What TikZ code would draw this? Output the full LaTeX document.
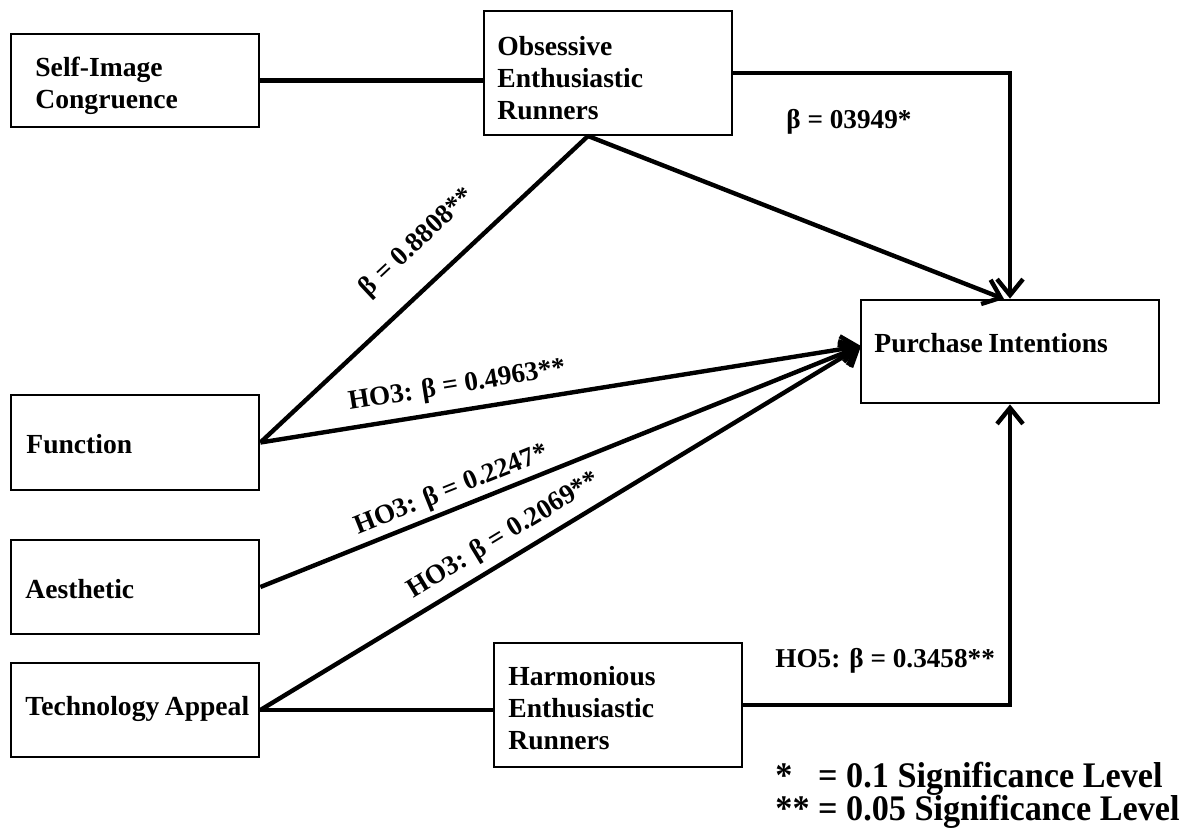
\documentclass[tikz,border=0pt]{standalone}
\usepackage{fontspec}
\setmainfont{Liberation Serif}
\newfontfamily\boxfont{Liberation Serif}[WordSpace=0.8]
\usetikzlibrary{arrows.meta}
\begin{document}
\begin{tikzpicture}[x=0.5pt,y=-0.5pt,
  box/.style={draw, line width=1.4pt, inner sep=0pt},
  txt/.style={anchor=base west, inner sep=0pt, text width=150pt, align=flush left,
              font=\boxfont\bfseries\fontsize{13.8}{16}\selectfont},
  lbl/.style={inner sep=1pt, font=\bfseries\fontsize{13.6}{16}\selectfont},
  link/.style={line width=2.2pt, line join=miter},
  arr/.style={link, -{Straight Barb[length=8pt,width=13pt,line width=2.2pt]}},
  key/.style={anchor=base west, inner sep=0pt,
              font=\bfseries\fontsize{18}{20}\selectfont\addfontfeature{FakeStretch=0.95}}]
\useasboundingbox (0,0) rectangle (1187,831);

% construct boxes
\node[box, minimum width=124pt, minimum height=46.5pt] (self) at (135,80.5) {};
\node[box, minimum width=124pt, minimum height=62pt]   (obs)  at (608,73) {};
\node[box, minimum width=149pt, minimum height=51.5pt] (pi)   at (1010,351.5) {};
\node[box, minimum width=124pt, minimum height=47.5pt] (func) at (135,442.5) {};
\node[box, minimum width=124pt, minimum height=47pt]   (aes)  at (135,587) {};
\node[box, minimum width=124pt, minimum height=47pt]   (tech) at (135,710) {};
\node[box, minimum width=124pt, minimum height=62pt]   (harm) at (618,705) {};

% box texts
\node[txt] (selft) at (35,76)  {Self-Image\\Congruence};
\node[txt] (obst)  at (497,55) {Obsessive\\Enthusiastic\\Runners};
\node[txt] (pit)   at (874,352) {Purchase Intentions};
\node[txt] (funct) at (26,453) {Function};
\node[txt] (aest)  at (25,598) {Aesthetic};
\node[txt] (techt) at (25,715) {Technology Appeal};
\node[txt] (harmt) at (508,685) {Harmonious\\Enthusiastic\\Runners};

% connection points
\coordinate (obsB) at (588,136);
\coordinate (piL)  at (861,346);
\coordinate (piT)  at (1004,299);

% plain links
\draw[link] (self.east) -- (self.east -| obs.west);
\draw[link] (tech.east) -- (tech.east -| harm.west);
\draw[link] (func.east) -- node[lbl, sloped, above=11pt, pos=.56] (l1) {β = 0.8808**} (obsB);

% paths into purchase intentions
\draw[arr] (obs.east) -| (pi.north);
\draw[arr] (obsB) -- (piT);
\draw[arr] (func.east) -- node[lbl, sloped, above=4pt, pos=.334] (l2) {HO3: β = 0.4963**} (piL);
\draw[arr] (aes.east)  -- node[lbl, sloped, above=1pt, pos=.33] (l3) {HO3: β = 0.2247*} (piL);
\draw[arr] (tech.east) -- node[lbl, sloped, above=3pt, pos=.425] (l4) {HO3: β = 0.2069**} (piL);
\draw[arr] (harm.east) -| (pi.south);

% coefficient labels
\node[lbl, anchor=base west, inner sep=0pt] (l5) at (786,128) {β = 03949*};
\node[lbl, anchor=base west, inner sep=0pt] (l6) at (775,667) {HO5: β = 0.3458**};

% significance key
\node[key] (k1) at (775,787) {\rlap{*}\phantom{**} = 0.1 Significance Level};
\node[key] (k2) at (775,820) {** = 0.05 Significance Level};
\end{tikzpicture}
\end{document}
